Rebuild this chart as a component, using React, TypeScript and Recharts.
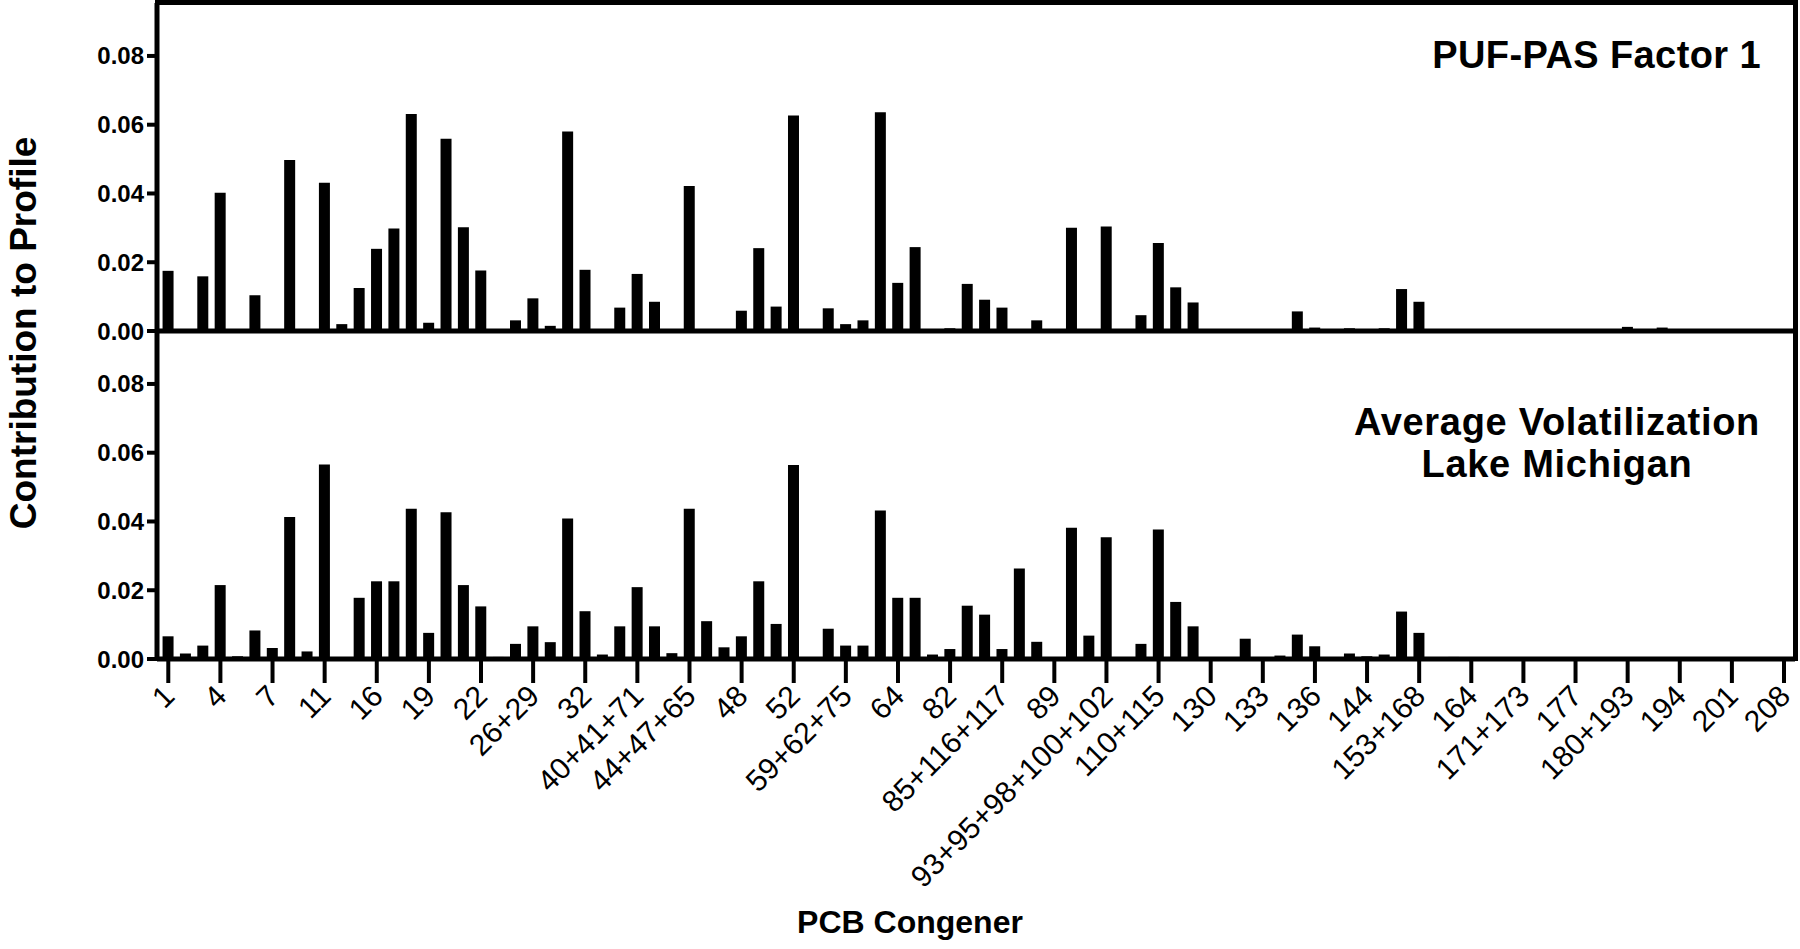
import { Bar, BarChart, XAxis, YAxis } from "recharts";

// PCB congeners in chromatographic order, every third one is labelled
const congeners = [
  "1", "2", "3", "4", "5", "6", "7", "8", "9",
  "11", "12+13", "15", "16", "17", "18+30", "19", "20+28", "21+33",
  "22", "24", "25", "26+29", "27", "31", "32", "34", "35",
  "40+41+71", "42", "43", "44+47+65", "45+51", "46", "48", "49+69", "50+53",
  "52", "54", "56", "59+62+75", "60", "61+70+74+76", "64", "66", "68",
  "82", "83+99", "84", "85+116+117", "86+87+97+109+119+125", "88", "89", "90+101+113", "91",
  "93+95+98+100+102", "105", "107+124", "110+115", "118", "129+138+163", "130", "131", "132",
  "133", "134+143", "135+151+154", "136", "137", "139+140", "144", "146", "147+149",
  "153+168", "156+157", "158", "164", "167", "170", "171+173", "172", "174",
  "177", "178", "179", "180+193", "183+185", "187", "194", "195", "196",
  "201", "202", "203", "208",
];

const pufPasFactor1 = [
  0.0175, 0, 0.0159, 0.0402, 0, 0.0104, 0, 0.0497, 0,
  0.0431, 0.002, 0.0125, 0.0239, 0.0298, 0.0631, 0.0024, 0.0559, 0.0302,
  0.0176, 0, 0.0031, 0.0095, 0.0015, 0.058, 0.0178, 0, 0.0068,
  0.0166, 0.0085, 0, 0.0422, 0, 0, 0.0059, 0.0241, 0.0071,
  0.0627, 0, 0.0066, 0.002, 0.0031, 0.0636, 0.014, 0.0244, 0,
  0.0008, 0.0137, 0.0091, 0.0068, 0, 0.0031, 0, 0.03, 0,
  0.0304, 0, 0.0046, 0.0256, 0.0127, 0.0083, 0, 0, 0,
  0, 0, 0.0057, 0.001, 0, 0.0008, 0, 0.0008, 0.0122,
  0.0085, 0, 0, 0, 0, 0, 0, 0, 0,
  0, 0, 0, 0.0012, 0, 0.001, 0, 0, 0,
  0, 0, 0, 0,
];

const avgVolatilization = [
  0.0066, 0.0016, 0.0039, 0.0215, 0.0008, 0.0083, 0.0032, 0.0413, 0.0022,
  0.0566, 0, 0.0178, 0.0226, 0.0226, 0.0437, 0.0076, 0.0427, 0.0215,
  0.0153, 0.0006, 0.0044, 0.0095, 0.0049, 0.0409, 0.0139, 0.0013, 0.0095,
  0.0209, 0.0095, 0.0017, 0.0437, 0.011, 0.0034, 0.0066, 0.0226, 0.0102,
  0.0564, 0, 0.0088, 0.0039, 0.0039, 0.0432, 0.0178, 0.0178, 0.0013,
  0.0029, 0.0155, 0.0129, 0.0029, 0.0263, 0.005, 0, 0.0382, 0.0068,
  0.0354, 0, 0.0044, 0.0377, 0.0166, 0.0095, 0, 0, 0.0059,
  0, 0.001, 0.0071, 0.0037, 0, 0.0016, 0.0008, 0.0013, 0.0138,
  0.0076, 0, 0.0006, 0, 0, 0, 0, 0, 0,
  0, 0, 0, 0, 0, 0, 0, 0, 0,
  0, 0, 0, 0,
];

const yTicks = [0, 0.02, 0.04, 0.06, 0.08];
const Y_MAX = 0.0954;

const data = congeners.map((name, i) => ({
  name,
  puf: pufPasFactor1[i],
  vol: avgVolatilization[i],
}));

const FONT = "'Liberation Sans', Arial, Helvetica, sans-serif";
const axisLine = { stroke: "#000", strokeWidth: 5 };
const tickLine = { stroke: "#000", strokeWidth: 4 };
const yTick = { fontSize: 24, fontWeight: 700, fill: "#000", fontFamily: FONT };
const xPadding = { left: 2.6, right: 2.3 };

function CongenerTick({ x, y, payload }: { x?: number; y?: number; payload?: { value: string } }) {
  return (
    <g transform={`translate(${(x ?? 0) + 8},${(y ?? 0) + 15})`}>
      <text
        textAnchor="end"
        transform="rotate(-45)"
        fontSize={30}
        fill="#000"
        fontFamily={FONT}
      >
        {payload?.value}
      </text>
    </g>
  );
}

export default function App() {
  return (
    <div style={{ position: "relative", width: 1800, height: 949, background: "#fff" }}>
      <style>{`body{margin:0;background:#fff}`}</style>

      <div style={{ position: "absolute", left: 0, top: 0 }}>
        <BarChart
          width={1800}
          height={360}
          data={data}
          margin={{ top: 3, right: 5, bottom: 0, left: 0 }}
          barCategoryGap="17%"
        >
          <XAxis
            dataKey="name"
            interval={2}
            height={29}
            tick={false}
            tickSize={24}
            axisLine={axisLine}
            tickLine={tickLine}
            padding={xPadding}
          />
          <YAxis
            width={157}
            domain={[0, Y_MAX]}
            ticks={yTicks}
            tickFormatter={(v: number) => v.toFixed(2)}
            tick={yTick}
            tickSize={10}
            tickMargin={3}
            axisLine={axisLine}
            tickLine={tickLine}
          />
          <Bar dataKey="puf" fill="#000" isAnimationActive={false} />
        </BarChart>
      </div>

      <div style={{ position: "absolute", left: 0, top: 300 }}>
        <BarChart
          width={1800}
          height={649}
          data={data}
          margin={{ top: 31, right: 5, bottom: 0, left: 0 }}
          barCategoryGap="17%"
        >
          <XAxis
            dataKey="name"
            interval={2}
            height={290}
            tick={<CongenerTick />}
            tickSize={24}
            tickMargin={0}
            axisLine={axisLine}
            tickLine={tickLine}
            padding={xPadding}
          />
          <YAxis
            width={157}
            domain={[0, Y_MAX]}
            ticks={yTicks}
            tickFormatter={(v: number) => v.toFixed(2)}
            tick={yTick}
            tickSize={10}
            tickMargin={3}
            axisLine={axisLine}
            tickLine={tickLine}
          />
          <Bar dataKey="vol" fill="#000" isAnimationActive={false} />
        </BarChart>
      </div>

      {/* frame: top border of upper panel and right border of both panels */}
      <div style={{ position: "absolute", left: 155, top: 0, width: 1643, height: 5, background: "#000" }} />
      <div style={{ position: "absolute", left: 1793, top: 0, width: 5, height: 661, background: "#000" }} />

      <svg
        width={1800}
        height={949}
        style={{ position: "absolute", left: 0, top: 0, pointerEvents: "none" }}
        fontFamily={FONT}
        fontWeight={700}
        fill="#000"
      >
        <text x={1761} y={68} fontSize={38} letterSpacing={0.4} textAnchor="end">PUF-PAS Factor 1</text>
        <text x={1557} y={435} fontSize={38} letterSpacing={0.7} textAnchor="middle">Average Volatilization</text>
        <text x={1557} y={477} fontSize={38} letterSpacing={0.7} textAnchor="middle">Lake Michigan</text>
        <text x={36} y={333} fontSize={37} textAnchor="middle" transform="rotate(-90 36 333)">
          Contribution to Profile
        </text>
        <text x={910} y={933} fontSize={32} textAnchor="middle">PCB Congener</text>
      </svg>
    </div>
  );
}
